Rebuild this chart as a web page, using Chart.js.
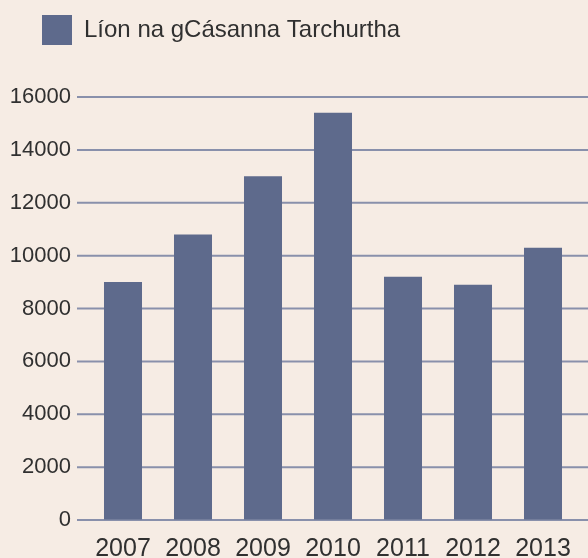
<!DOCTYPE html>
<html>
<head>
<meta charset="utf-8">
<script src="https://cdn.jsdelivr.net/npm/chart.js@4/dist/chart.umd.min.js"></script>
<style>
    html, body { margin: 0; padding: 0; background: #f6ece4; }
    canvas { display: block; }
</style>
</head>
<body>
<canvas id="chart" width="588" height="558"></canvas>
<script>
const years = ['2007', '2008', '2009', '2010', '2011', '2012', '2013'];
const cases = [9000, 10800, 13000, 15400, 9200, 8900, 10300];
const seriesLabel = 'Líon na gCásanna Tarchurtha';

const textColor = '#303030';
const gridColor = '#8990ab';
const fontFamily = 'Liberation Sans, Arial, sans-serif';

// extend the legend block so the plot starts lower, and nudge it right
const legendSpacer = {
    id: 'legendSpacer',
    beforeInit(chart) {
        const fit = chart.legend.fit;
        chart.legend.fit = function () {
            fit.bind(chart.legend)();
            this.height += 42;
        };
    },
    afterLayout(chart) {
        chart.legend.left += 22;
        chart.legend.right += 22;
    }
};

// horizontal grid lines that run from the tick marks to the right edge
const gridLines = {
    id: 'gridLines',
    beforeDatasetsDraw(chart) {
        const {ctx, chartArea, scales: {y}} = chart;
        ctx.save();
        ctx.strokeStyle = gridColor;
        ctx.lineWidth = 2;
        y.ticks.forEach(tick => {
            const py = y.getPixelForValue(tick.value);
            ctx.beginPath();
            ctx.moveTo(chartArea.left - 11, py);
            ctx.lineTo(chart.width, py);
            ctx.stroke();
        });
        ctx.restore();
    }
};

new Chart(document.getElementById('chart'), {
    type: 'bar',
    data: {
        labels: years,
        datasets: [{
            label: seriesLabel,
            data: cases,
            backgroundColor: '#5e6a8c',
            borderWidth: 0,
            categoryPercentage: 1,
            barPercentage: 0.543
        }]
    },
    options: {
        responsive: false,
        animation: false,
        layout: {
            padding: { left: 10, right: 10, top: 5, bottom: 0 }
        },
        plugins: {
            legend: {
                align: 'start',
                labels: {
                    boxWidth: 30,
                    boxHeight: 30,
                    color: textColor,
                    font: { family: fontFamily, size: 24 }
                }
            },
            tooltip: { enabled: false }
        },
        scales: {
            x: {
                grid: { display: false, drawTicks: false },
                border: { display: false },
                afterFit(scale) { scale.height = 38; },
                ticks: {
                    color: textColor,
                    padding: 14,
                    font: { family: fontFamily, size: 25 }
                }
            },
            y: {
                min: 0,
                max: 16000,
                grid: { color: 'rgba(0,0,0,0)', tickLength: 11 },
                border: { display: false },
                afterFit(scale) { scale.width = 78; },
                ticks: {
                    stepSize: 2000,
                    color: textColor,
                    padding: 6,
                    font: { family: fontFamily, size: 22 },
                    callback: value => String(value)
                }
            }
        }
    },
    plugins: [legendSpacer, gridLines]
});
</script>
</body>
</html>
